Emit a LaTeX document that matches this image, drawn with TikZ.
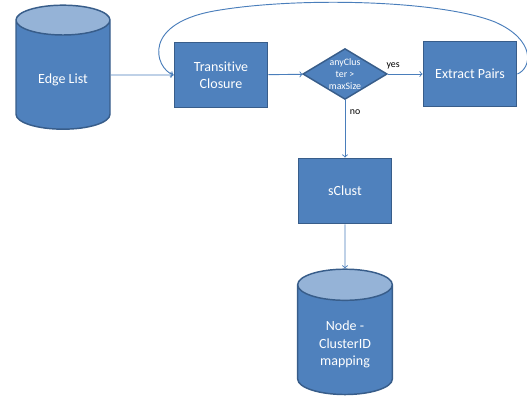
\documentclass[tikz,border=0pt]{standalone}
\usepackage{fontspec}
\setmainfont{Carlito}[Ligatures=NoCommon]
\usetikzlibrary{shapes.geometric}
\definecolor{boxblue}{HTML}{4F81BD}
\definecolor{boxedge}{HTML}{385D8A}
\definecolor{topblue}{HTML}{95B3D7}
\definecolor{lineblue}{HTML}{4A7EBB}
\tikzset{
  procbox/.style={draw=boxedge, line width=1.1pt, fill=boxblue, text=white,
    minimum width=70pt, minimum height=49pt, inner sep=0pt, align=center,
    font=\fontsize{10.5}{12.8}\selectfont},
  storebox/.style={cylinder, shape border rotate=90, aspect=0.6,
    draw=boxedge, line width=1.1pt, cylinder uses custom fill,
    cylinder body fill=boxblue, cylinder end fill=topblue, text=white,
    minimum width=70.5pt, minimum height=93pt, inner sep=0pt, align=center,
    font=\fontsize{10.5}{12.8}\selectfont},
  testbox/.style={diamond, draw=boxedge, line width=1.1pt, fill=boxblue, text=white,
    aspect=1.66, minimum width=62pt, minimum height=37.5pt, inner sep=0pt,
    align=center, font=\fontsize{7.4}{9.2}\selectfont},
  flow/.style={draw=lineblue, line width=0.7pt, ->},
  tag/.style={font=\fontsize{7.4}{9}\selectfont, text=black}
}
% empty first line pushes the text below the cylinder top
\newcommand{\droptext}{\mbox{}\\[1pt]}
\begin{document}
\begin{tikzpicture}[x=0.75pt, y=-0.75pt]
  \useasboundingbox (0,0) rectangle (527,404);

  \node[storebox] (edges) at (63,75) {\droptext Edge List};
  \node[procbox] (closure) at (221,75) {Transitive\\Closure};
  \node[testbox] (check) at (345,74) {anyClus\\ter >\\maxSize};
  \node[procbox] (pairs) at (470,74) {Extract Pairs};
  \node[procbox] (sclust) at (345,191) {sClust};
  \node[storebox, minimum width=71pt, minimum height=94pt] (mapping) at (345,340) {\droptext Node -\\ClusterID\\mapping};

  \draw[flow] (edges) -- (closure);
  \draw[flow] (closure) -- (check);
  \draw[flow] (check) -- node[tag, pos=0.15, above] {yes} (pairs);
  \draw[flow] (check) -- node[tag, pos=0.2, right] {no} (sclust);
  \draw[flow] (sclust) -- (mapping);

  % loop back from extract pairs
  \draw[flow] (pairs.east) .. controls (532,68) and (536,40) .. (495,22)
    .. controls (440,0) and (300,-3) .. (220,10)
    .. controls (140,22) and (155,68) .. (closure.west);
\end{tikzpicture}
\end{document}
